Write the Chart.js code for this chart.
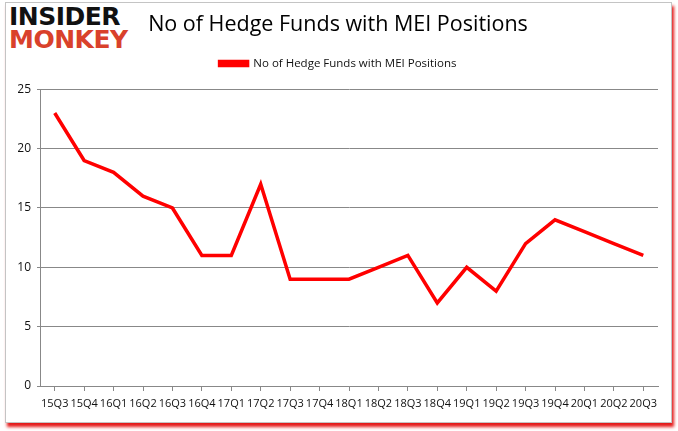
<!DOCTYPE html>
<html lang="en">
<head>
    <meta charset="UTF-8">
    <title>No of Hedge Funds with MEI Positions</title>
    <style>
        body { margin: 0; background-color: #ffffff; width: 678px; height: 431px; overflow: hidden; position: relative; }
        .frame { position: absolute; left: 5px; top: 2px; width: 665px; height: 419px; border: 1px solid #c4c4c4; background: #fff; box-shadow: 2px 4px 3px #e41b1b; }
        #chartBox { position: absolute; left: 0; top: 0; }
        .logo { position: absolute; left: 9px; top: 5px; font-family: "DejaVu Sans", sans-serif; font-weight: 900; font-size: 25px; line-height: 23px; letter-spacing: -0.5px; }
        .logo .a { color: #111; }
        .logo .b { color: #d9412b; }
    </style>
</head>
<body>
    <div class="frame"></div>
    <div class="logo"><div class="a">INSIDER</div><div class="b">MONKEY</div></div>
    <canvas id="chartBox" width="678" height="431"></canvas>

    <script src="https://cdn.jsdelivr.net/npm/chart.js"></script>
    <script>
        const quarters = ['15Q3', '15Q4', '16Q1', '16Q2', '16Q3', '16Q4', '17Q1', '17Q2', '17Q3', '17Q4',
                          '18Q1', '18Q2', '18Q3', '18Q4', '19Q1', '19Q2', '19Q3', '19Q4', '20Q1', '20Q2', '20Q3'];
        const hedgeFunds = [23, 19, 18, 16, 15, 11, 11, 17, 9, 9, 9, 10, 11, 7, 10, 8, 12, 14, 13, 12, 11];
        const seriesName = 'No of Hedge Funds with MEI Positions';

        // extra room under the legend, like the original sheet
        const legendGap = {
            id: 'legendGap',
            beforeInit(chart) {
                const fit = chart.legend.fit;
                chart.legend.fit = function () { fit.bind(chart.legend)(); this.height += 10; };
            }
        };

        const chart = new Chart(document.getElementById('chartBox').getContext('2d'), {
            type: 'line',
            data: {
                labels: quarters,
                datasets: [{ label: seriesName, data: hedgeFunds, borderColor: '#ff0000', backgroundColor: '#ff0000',
                             borderWidth: 3.5, pointRadius: 0, tension: 0, fill: false }]
            },
            options: {
                responsive: false,
                animation: false,
                layout: { padding: { left: 18, right: 20, top: 0, bottom: 15 } },
                plugins: {
                    title: { display: true, text: seriesName, color: '#000',
                             font: { family: 'Open Sans', size: 21.5, weight: 'normal' }, padding: { top: 12, bottom: 10 } },
                    legend: { labels: { color: '#111', font: { family: 'Open Sans', size: 11.5 },
                                        boxWidth: 28, boxHeight: 4, padding: 10 } },
                    tooltip: { enabled: false }
                },
                scales: {
                    y: {
                        min: 0, max: 25,
                        ticks: { stepSize: 5, color: '#111', font: { family: 'Open Sans', size: 12 }, padding: 6 },
                        grid: { color: '#888', tickLength: 3 },
                        border: { color: '#888' },
                        afterFit: s => { s.width = 22; }
                    },
                    x: {
                        offset: true,
                        ticks: { color: '#111', font: { family: 'Open Sans', size: 11 }, autoSkip: false, maxRotation: 0, padding: 6 },
                        grid: { drawOnChartArea: false, color: '#888', tickLength: 5 },
                        border: { color: '#888' },
                        afterFit: s => { s.height = 30; }
                    }
                }
            },
            plugins: [legendGap]
        });
    </script>
</body>
</html>
